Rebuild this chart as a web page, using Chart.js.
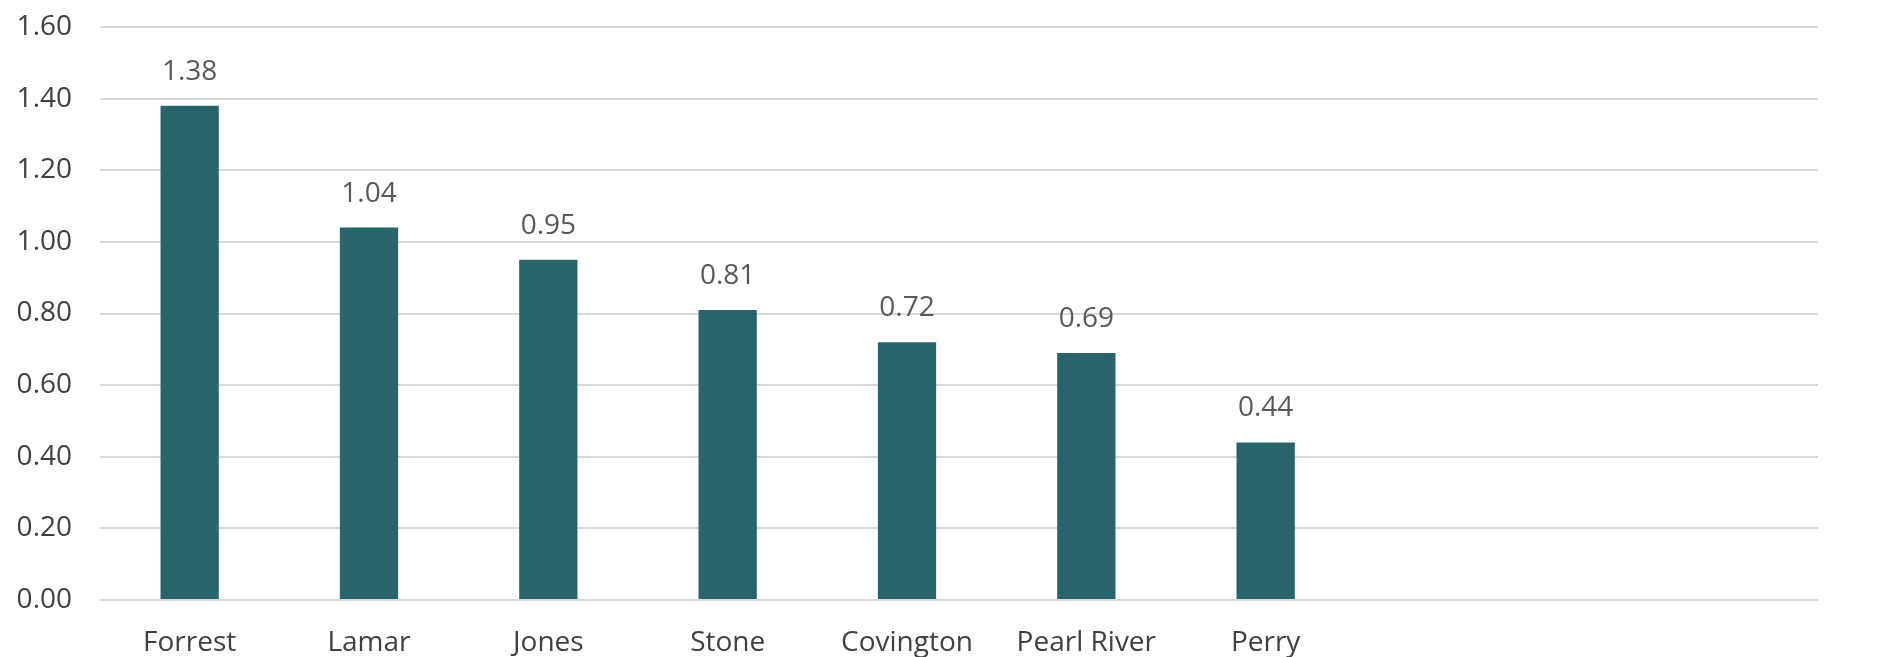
<!DOCTYPE html>
<html>
<head>
<meta charset="utf-8">
<script src="https://cdn.jsdelivr.net/npm/chart.js@4"></script>
<style>
    html, body { margin: 0; padding: 0; background: #ffffff; }
    #wrap { width: 1896px; height: 657px; }
</style>
</head>
<body>
<div id="wrap"><canvas id="barChart"></canvas></div>
<script>
// Chart data
const counties = ['Forrest', 'Lamar', 'Jones', 'Stone', 'Covington', 'Pearl River', 'Perry'];
const values = [1.38, 1.04, 0.95, 0.81, 0.72, 0.69, 0.44];
const yTicks = [0, 0.2, 0.4, 0.6, 0.8, 1.0, 1.2, 1.4, 1.6];

const FONT = '"Open Sans", sans-serif';

document.addEventListener('DOMContentLoaded', function() {
    // Value labels above each bar
    const valueLabels = {
        id: 'valueLabels',
        afterDatasetsDraw(chart) {
            const ctx = chart.ctx;
            const meta = chart.getDatasetMeta(0);
            ctx.save();
            ctx.font = '28px ' + FONT;
            ctx.fillStyle = '#595959';
            ctx.textAlign = 'center';
            ctx.textBaseline = 'alphabetic';
            meta.data.forEach(function(bar, i) {
                ctx.fillText(values[i].toFixed(2), bar.x, bar.y - 26);
            });
            ctx.restore();
        }
    };

    const ctx = document.getElementById('barChart').getContext('2d');
    new Chart(ctx, {
        type: 'bar',
        data: {
            datasets: [{
                data: values.map((v, i) => ({ x: i, y: v })),
                backgroundColor: '#27656b',
                borderWidth: 0,
                categoryPercentage: 1,
                barPercentage: 0.325
            }]
        },
        options: {
            responsive: true,
            maintainAspectRatio: false,
            animation: false,
            layout: { padding: { top: 27, right: 78, left: 0, bottom: 0 } },
            plugins: {
                legend: { display: false },
                tooltip: { enabled: false }
            },
            scales: {
                x: {
                    type: 'linear',
                    offset: false,
                    min: -0.5,
                    max: 9.08,
                    afterBuildTicks: function(scale) {
                        scale.ticks = counties.map((_, i) => ({ value: i }));
                    },
                    afterFit: function(scale) { scale.height = 57; },
                    grid: { display: false, drawTicks: false },
                    border: { display: false },
                    ticks: {
                        autoSkip: false,
                        maxRotation: 0,
                        padding: 26,
                        color: '#404040',
                        font: { family: FONT, size: 28 },
                        callback: function(v) { return counties[v] || ''; }
                    }
                },
                y: {
                    min: 0,
                    max: 1.6,
                    afterBuildTicks: function(scale) {
                        scale.ticks = yTicks.map(v => ({ value: v }));
                    },
                    afterFit: function(scale) {
                        scale.width = 100;
                        // keep the tick gap from pushing the plot down
                        scale.paddingTop = 17;
                        scale.paddingBottom = 17;
                    },
                    grid: { color: '#d9d9d9', lineWidth: 2, drawTicks: false },
                    border: { display: false },
                    ticks: {
                        padding: 28,
                        color: '#404040',
                        font: { family: FONT, size: 28 },
                        callback: function(v) { return v.toFixed(2); }
                    }
                }
            }
        },
        plugins: [valueLabels]
    });
});
</script>
</body>
</html>
